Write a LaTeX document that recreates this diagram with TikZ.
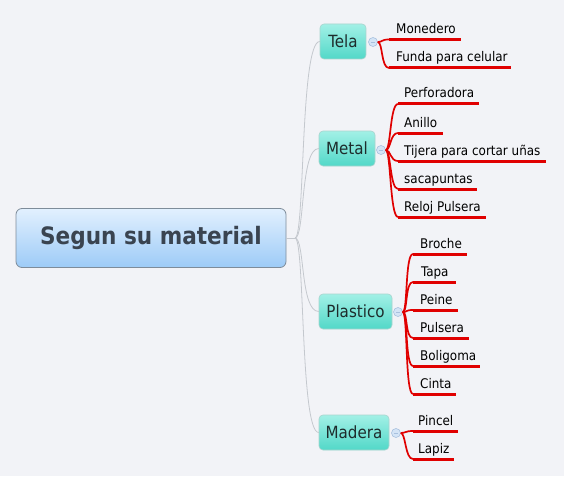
\documentclass[tikz,border=0pt]{standalone}
\usepackage{fontspec}
\setmainfont{DejaVu Sans Condensed}
\definecolor{bg}{HTML}{F2F3F7}
\definecolor{rootTop}{HTML}{E2F0FE}
\definecolor{rootBot}{HTML}{9DCBF7}
\definecolor{rootBorder}{HTML}{7E8C9A}
\definecolor{rootText}{HTML}{3A4450}
\definecolor{brTop}{HTML}{A2F0E6}
\definecolor{brBot}{HTML}{52D8C8}
\definecolor{brBorder}{HTML}{A8D4CE}
\definecolor{brText}{HTML}{1E2C2C}
\definecolor{linkgray}{HTML}{C4C8CE}
\definecolor{leafred}{HTML}{E00000}
\definecolor{knobFill}{HTML}{D4E4F6}
\definecolor{knobDraw}{HTML}{A8C0DE}
\tikzset{
  rootbox/.style={draw=rootBorder, line width=0.8pt, rounded corners=6pt,
    top color=rootTop, bottom color=rootBot, minimum width=270pt,
    minimum height=59pt, inner sep=0pt, text=rootText,
    font=\bfseries\fontsize{24}{28}\selectfont},
  brbox/.style={draw=brBorder, line width=0.6pt, rounded corners=4pt,
    top color=brTop, bottom color=brBot, minimum height=35pt,
    inner sep=0pt, text=brText, font=\fontsize{16.8}{20}\selectfont},
  knob/.style={circle, draw=knobDraw, fill=knobFill, line width=0.6pt,
    minimum size=9pt, inner sep=0pt},
  knobminus/.style={draw=knobDraw, line width=0.8pt},
  leaf/.style={anchor=base west, inner sep=0pt, text=black,
    font=\fontsize{13.3}{16}\selectfont},
  graylink/.style={draw=linkgray, line width=0.8pt},
  redlink/.style={draw=leafred, line width=1.7pt},
  uline/.style={draw=leafred, line width=3pt},
}
\begin{document}
\begin{tikzpicture}[x=1pt,y=-1pt]
\fill[bg] (0,0) rectangle (564,476);
\useasboundingbox (0,0) rectangle (564,476);

% root and branches
\node[rootbox] (root) at (151,238) {Segun su material};
\node[brbox, minimum width=46pt] (tela) at (343,41.5) {Tela};
\node[brbox, minimum width=56pt] (metal) at (347,148.5) {Metal};
\node[brbox, minimum width=73pt] (plastico) at (355.5,311.5) {Plastico};
\node[brbox, minimum width=70pt] (madera) at (354,432.5) {Madera};

\coordinate (hub) at (295,238);
\draw[graylink] (root.east) -- (hub);
\draw[graylink] (hub) .. controls (305,238) and (300,41.5) .. (tela.west);
\draw[graylink] (hub) .. controls (305,238) and (300,148.5) .. (metal.west);
\draw[graylink] (hub) .. controls (305,238) and (300,311.5) .. (plastico.west);
\draw[graylink] (hub) .. controls (305,238) and (300,432.5) .. (madera.west);

% knobs
\node[knob] (k1) at (373,42) {};
\node[knob] (k2) at (381,150) {};
\node[knob] (k3) at (398,312) {};
\node[knob] (k4) at (396,433) {};
\foreach \k in {k1,k2,k3,k4}{
  \draw[knobminus] ([xshift=-2.2pt]\k.center) -- ([xshift=2.2pt]\k.center);
}

% leaves: knob, underline start x, text x, underline y, underline end x, name, text
\foreach \kn/\ux/\tx/\uy/\ue/\nm/\txt in {
  k1/389/396/39.5/461/t1/Monedero,
  k1/389/396/68/511/t2/Funda para celular,
  k2/398/404/104/479/m1/Perforadora,
  k2/398/404/133/443/m2/Anillo,
  k2/398/404/161/546/m3/Tijera para cortar uñas,
  k2/398/404/189/477/m4/sacapuntas,
  k2/398/404/217/486/m5/Reloj Pulsera,
  k3/413/420/254/467/p1/Broche,
  k3/413/421/282/456/p2/Tapa,
  k3/413/420/310/458/p3/Peine,
  k3/413/420/338/469/p4/Pulsera,
  k3/413/420/366/480/p5/Boligoma,
  k3/413/420/394/456/p6/Cinta,
  k4/413/418/431/458/w1/Pincel,
  k4/413/418/459/454/w2/Lapiz}{
  \coordinate (\nm-a) at (\ux,\uy);
  \coordinate (\nm-b) at (\ue,\uy);
  \node[leaf] (\nm) at (\tx,\uy-6) {\txt};
  \draw[redlink] (\kn.east) .. controls +(5,0) and +(-8,0) .. (\nm-a);
  \draw[uline] (\nm-a) -- (\nm-b);
}
\end{tikzpicture}
\end{document}
